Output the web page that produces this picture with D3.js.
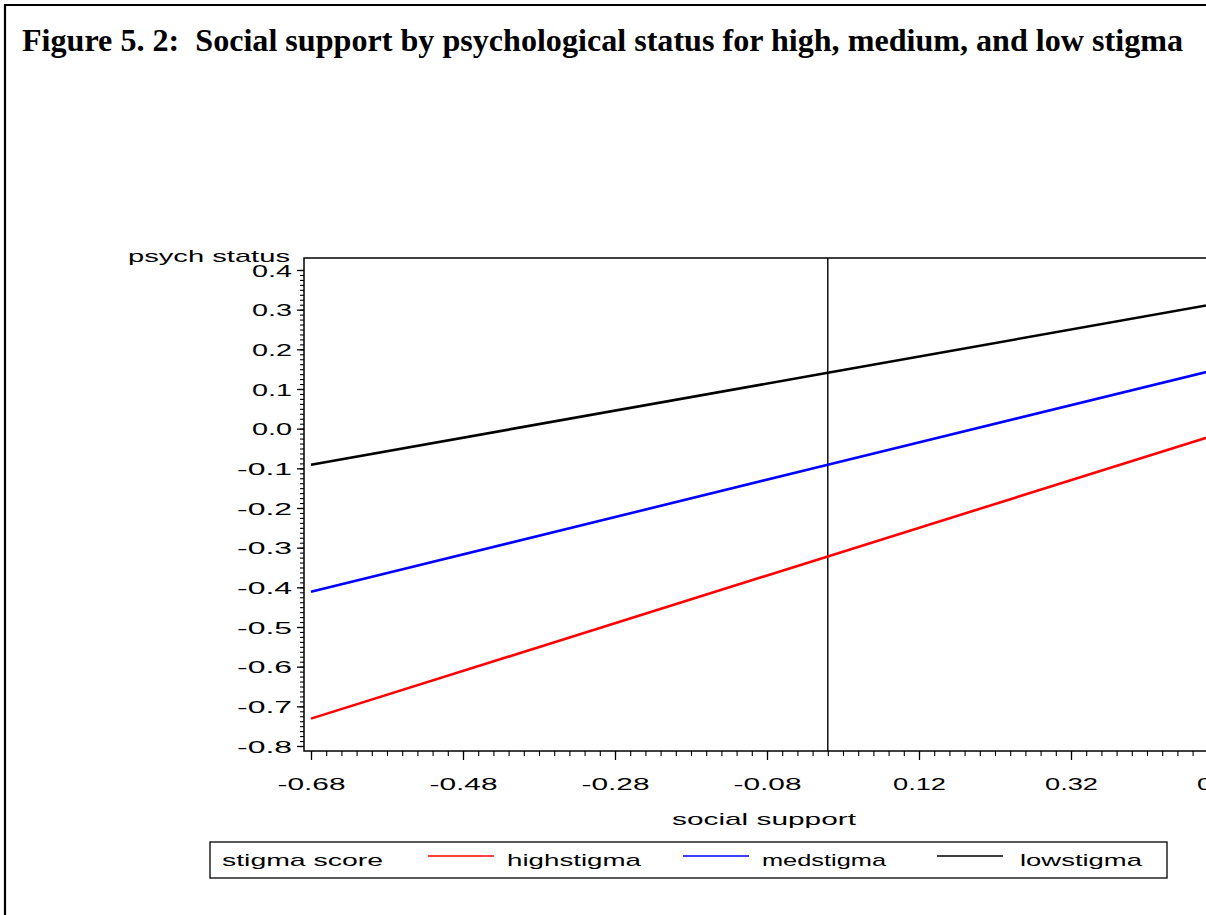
<!DOCTYPE html>
<html>
<head>
<meta charset="utf-8">
<script src="https://cdn.jsdelivr.net/npm/d3@7"></script>
<style>
  html, body { margin: 0; padding: 0; background: #fff; overflow: hidden; }
  svg { display: block; }
</style>
</head>
<body>
<svg id="chart" width="1206" height="915"></svg>
<script>
// ---- data ----
const seriesNames = ["highstigma", "medstigma", "lowstigma"];
const seriesColors = ["#ff0000", "#0000ff", "#000000"];
const xValues = [-0.68, 0, 0.52];
const highValues = [-0.731, -0.322, -0.010];
const medValues = [-0.411, -0.091, 0.153];
const lowValues = [-0.091, 0.141, 0.318];
const xTicks = [-0.68, -0.48, -0.28, -0.08, 0.12, 0.32, 0.52];
const yTicks = [-0.8, -0.7, -0.6, -0.5, -0.4, -0.3, -0.2, -0.1, 0.0, 0.1, 0.2, 0.3, 0.4];
const refLineX = 0;
const titleText = "Figure 5. 2:  Social support by psychological status for high, medium, and low stigma";
const xLabel = "social support";
const yLabel = "psych status";
const legendTitle = "stigma score";

const seriesValues = [highValues, medValues, lowValues];

const svg = d3.select("#chart");
const SANS = "'Liberation Sans', Arial, sans-serif";

// outer frame (left and top border)
svg.append("path").attr("d", "M5,915 L5,5 L1206,5").attr("fill", "none")
  .attr("stroke", "#000").attr("stroke-width", 2.2);

// title
svg.append("text").attr("transform", "translate(22,51) scale(1,1.12)")
  .attr("x", 0).attr("y", 0)
  .attr("font-family", "'Liberation Serif', 'Times New Roman', serif")
  .attr("font-weight", "bold").attr("font-size", 29)
  .attr("textLength", 1161).attr("lengthAdjust", "spacingAndGlyphs")
  .style("white-space", "pre")
  .text(titleText);

// scales
const x = d3.scaleLinear().domain([-0.68, 0.52]).range([311, 1223]);
const y = d3.scaleLinear().domain([-0.8, 0.4]).range([746, 270]);
const plotLeft = 304, plotTop = 258, plotBottom = 751, plotRight = 1240;

const loc = d3.formatLocale({decimal: ".", thousands: ",", grouping: [3], currency: ["", ""], minus: "-"});
const fmtY = loc.format(".1f");
const fmtX = loc.format(".2f");

function labelWidth(s) {
  let w = 0;
  for (const c of s) {
    if (c === "-") w += 15; else if (c === ".") w += 14; else w += 13;
  }
  return w;
}

// y axis minor ticks
const yMinor = d3.range(0, 97).map(i => -0.8 + i * 0.0125).filter(v => v <= 0.4001);
svg.append("g").attr("transform", `translate(${plotLeft},0)`)
  .call(d3.axisLeft(y).tickValues(yMinor).tickSize(4).tickFormat(""))
  .call(g => g.select(".domain").remove())
  .selectAll("line").attr("stroke-width", 1.1);

// y axis major
const gy = svg.append("g").attr("transform", `translate(${plotLeft},0)`)
  .call(d3.axisLeft(y).tickValues(yTicks).tickSize(7).tickPadding(5).tickFormat(fmtY))
  .call(g => g.select(".domain").remove());
gy.selectAll("line").attr("stroke-width", 1.3);
gy.selectAll("text")
  .attr("font-family", SANS)
  .attr("font-size", 17).attr("fill", "#000")
  .attr("dy", "0.36em")
  .each(function() {
    const s = d3.select(this).text();
    d3.select(this).attr("textLength", labelWidth(s)).attr("lengthAdjust", "spacingAndGlyphs");
  });

// x axis minor ticks
const xMinor = d3.range(0, 61).map(i => -0.68 + i * 0.02);
svg.append("g").attr("transform", `translate(0,${plotBottom})`)
  .call(d3.axisBottom(x).tickValues(xMinor).tickSize(5).tickFormat(""))
  .call(g => g.select(".domain").remove())
  .selectAll("line").attr("stroke-width", 1.1);

// x axis major
const gx = svg.append("g").attr("transform", `translate(0,${plotBottom})`)
  .call(d3.axisBottom(x).tickValues(xTicks).tickSize(9).tickPadding(18).tickFormat(fmtX))
  .call(g => g.select(".domain").remove());
gx.selectAll("line").attr("stroke-width", 1.3);
gx.selectAll("text")
  .attr("font-family", SANS)
  .attr("font-size", 17).attr("fill", "#000")
  .each(function() {
    const s = d3.select(this).text();
    d3.select(this).attr("textLength", labelWidth(s)).attr("lengthAdjust", "spacingAndGlyphs");
  });

// plot frame
svg.append("rect").attr("x", plotLeft).attr("y", plotTop)
  .attr("width", plotRight - plotLeft).attr("height", plotBottom - plotTop)
  .attr("fill", "none").attr("stroke", "#000").attr("stroke-width", 1.5);

// reference line at x = 0
svg.append("line").attr("x1", x(refLineX)).attr("x2", x(refLineX))
  .attr("y1", plotTop).attr("y2", plotBottom)
  .attr("stroke", "#000").attr("stroke-width", 1.4);

// series lines
const line = d3.line().x(d => x(d[0])).y(d => y(d[1]));
seriesValues.forEach((vals, i) => {
  svg.append("path")
    .datum(xValues.map((xv, j) => [xv, vals[j]]))
    .attr("d", line).attr("fill", "none")
    .attr("stroke", seriesColors[i]).attr("stroke-width", 2.6);
});

// axis labels
svg.append("text").attr("x", 290).attr("y", 262)
  .attr("font-family", SANS).attr("font-size", 17)
  .attr("text-anchor", "end")
  .attr("textLength", 162).attr("lengthAdjust", "spacingAndGlyphs")
  .text(yLabel);

svg.append("text").attr("x", 672).attr("y", 825)
  .attr("font-family", SANS).attr("font-size", 17)
  .attr("textLength", 184).attr("lengthAdjust", "spacingAndGlyphs")
  .text(xLabel);

// legend
svg.append("rect").attr("x", 210).attr("y", 842).attr("width", 957).attr("height", 36)
  .attr("fill", "none").attr("stroke", "#000").attr("stroke-width", 1.3);
svg.append("text").attr("x", 222).attr("y", 866)
  .attr("font-family", SANS).attr("font-size", 17)
  .attr("textLength", 161).attr("lengthAdjust", "spacingAndGlyphs")
  .text(legendTitle);
const legLineX = [428, 683, 937];
const legTextX = [507, 762, 1020];
const legTextW = [134, 124, 122];
seriesNames.forEach((name, i) => {
  svg.append("line").attr("x1", legLineX[i]).attr("x2", legLineX[i] + 66)
    .attr("y1", 856).attr("y2", 856)
    .attr("stroke", seriesColors[i]).attr("stroke-width", 1.3);
  svg.append("text").attr("x", legTextX[i]).attr("y", 866)
    .attr("font-family", SANS).attr("font-size", 17)
    .attr("textLength", legTextW[i]).attr("lengthAdjust", "spacingAndGlyphs")
    .text(name);
});
</script>
</body>
</html>
